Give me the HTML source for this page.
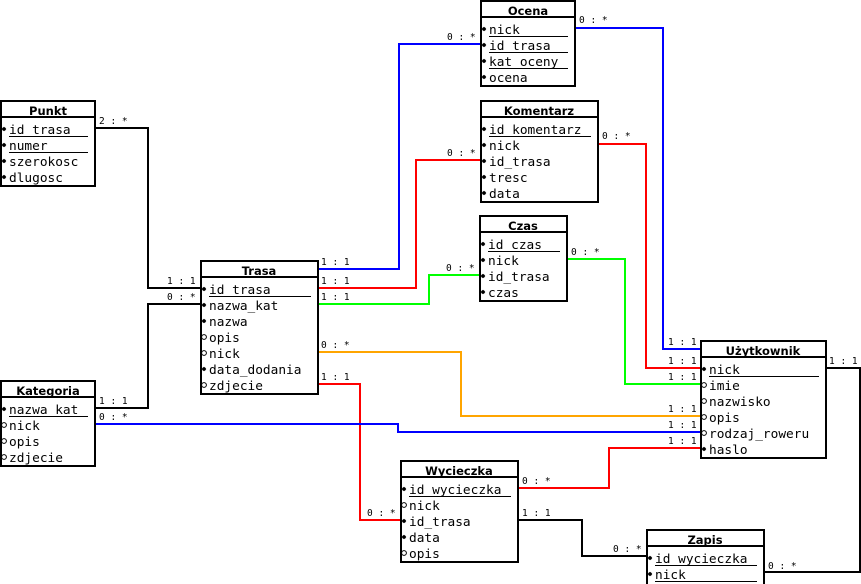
<!DOCTYPE html>
<html><head><meta charset="utf-8"><style>
html,body{margin:0;padding:0;background:#fff;}
svg{display:block}
.t{font-family:"DejaVu Sans","Liberation Sans",sans-serif;font-weight:bold;font-size:11.5px;text-anchor:middle}
.a{font-family:"DejaVu Sans Mono","Liberation Mono",monospace;font-size:12.8px}
.l{font-family:"DejaVu Sans Mono","Liberation Mono",monospace;font-size:9.5px}
</style></head><body>
<svg width="861" height="584" viewBox="0 0 861 584" xmlns="http://www.w3.org/2000/svg">
<defs>
<g id="f"><path d="M0,-2.3 L2.3,0 L0,2.3 L-2.3,0Z" fill="#000"/><circle r="1.8" fill="#000"/></g>
<g id="h"><circle r="2.4" fill="none" stroke="#000" stroke-width="1"/></g>
</defs>
<g fill="none" stroke-width="2">
<polyline stroke="#0000ff" points="575,28 663,28 663,349 700,349"/>
<polyline stroke="#ff0000" points="598,144 646,144 646,368 700,368"/>
<polyline stroke="#00ff00" points="567,259 625,259 625,384 700,384"/>
<polyline stroke="#000" points="826,368 860,368 860,572 764,572"/>
<polyline stroke="#0000ff" points="318,269 399,269 399,44 480,44"/>
<polyline stroke="#ff0000" points="318,288 416,288 416,160 480,160"/>
<polyline stroke="#00ff00" points="318,304 429,304 429,275 479,275"/>
<polyline stroke="#ffa500" points="318,352 461,352 461,416 700,416"/>
<polyline stroke="#ff0000" points="318,384 360,384 360,520 400,520"/>
<polyline stroke="#0000ff" points="95,424 398,424 398,432 700,432"/>
<polyline stroke="#000" points="95,408 148,408 148,304 200,304"/>
<polyline stroke="#000" points="95,128 148,128 148,288 200,288"/>
<polyline stroke="#ff0000" points="518,488 609,488 609,448 700,448"/>
<polyline stroke="#000" points="518,520 582,520 582,556 646,556"/>
</g>
<g class="l">
<text x="579" y="23">0 : *</text>
<text x="602" y="139">0 : *</text>
<text x="571" y="255">0 : *</text>
<text x="829" y="364">1 : 1</text>
<text x="768" y="569">0 : *</text>
<text x="321" y="265">1 : 1</text>
<text x="447" y="40">0 : *</text>
<text x="321" y="284">1 : 1</text>
<text x="447" y="156">0 : *</text>
<text x="321" y="300">1 : 1</text>
<text x="446" y="271">0 : *</text>
<text x="321" y="348">0 : *</text>
<text x="668" y="412">1 : 1</text>
<text x="321" y="380">1 : 1</text>
<text x="367" y="516">0 : *</text>
<text x="99" y="420">0 : *</text>
<text x="668" y="428">1 : 1</text>
<text x="99" y="404">1 : 1</text>
<text x="167" y="300">0 : *</text>
<text x="99" y="124">2 : *</text>
<text x="167" y="284">1 : 1</text>
<text x="522" y="484">0 : *</text>
<text x="668" y="444">1 : 1</text>
<text x="522" y="516">1 : 1</text>
<text x="613" y="552">0 : *</text>
<text x="668" y="345">1 : 1</text>
<text x="668" y="364">1 : 1</text>
<text x="668" y="380">1 : 1</text>
</g>

<g>
<rect x="1" y="101" width="94" height="85" fill="#fff" stroke="#000" stroke-width="2"/>
<line x1="1" y1="117" x2="95" y2="117" stroke="#000" stroke-width="2"/>
<text class="t" x="48" y="115">Punkt</text>
<g class="a"><text x="9" y="134">id trasa</text><text x="9" y="150">numer</text><text x="9" y="166">szerokosc</text><text x="9" y="182">dlugosc</text></g>
<g stroke="#000" stroke-width="1"><line x1="9" y1="136.5" x2="88" y2="136.5"/><line x1="9" y1="152.5" x2="88" y2="152.5"/></g>
<use href="#f" x="4" y="129"/><use href="#f" x="4" y="145"/><use href="#f" x="4" y="161"/><use href="#f" x="4" y="177"/>
</g>

<g>
<rect x="481" y="1" width="94" height="85" fill="#fff" stroke="#000" stroke-width="2"/>
<line x1="481" y1="17" x2="575" y2="17" stroke="#000" stroke-width="2"/>
<text class="t" x="528" y="15">Ocena</text>
<g class="a"><text x="489" y="34">nick</text><text x="489" y="50">id trasa</text><text x="489" y="66">kat oceny</text><text x="489" y="82">ocena</text></g>
<g stroke="#000" stroke-width="1"><line x1="489" y1="36.5" x2="568" y2="36.5"/><line x1="489" y1="52.5" x2="568" y2="52.5"/><line x1="489" y1="68.5" x2="568" y2="68.5"/></g>
<use href="#f" x="484" y="29"/><use href="#f" x="484" y="45"/><use href="#f" x="484" y="61"/><use href="#f" x="484" y="77"/>
</g>

<g>
<rect x="481" y="101" width="117" height="101" fill="#fff" stroke="#000" stroke-width="2"/>
<line x1="481" y1="117" x2="598" y2="117" stroke="#000" stroke-width="2"/>
<text class="t" x="539" y="115">Komentarz</text>
<g class="a"><text x="489" y="134">id komentarz</text><text x="489" y="150">nick</text><text x="489" y="166">id_trasa</text><text x="489" y="182">tresc</text><text x="489" y="198">data</text></g>
<line x1="489" y1="136.5" x2="591" y2="136.5" stroke="#000" stroke-width="1"/>
<use href="#f" x="484" y="129"/><use href="#f" x="484" y="145"/><use href="#f" x="484" y="161"/><use href="#f" x="484" y="177"/><use href="#f" x="484" y="193"/>
</g>

<g>
<rect x="480" y="216" width="87" height="85" fill="#fff" stroke="#000" stroke-width="2"/>
<line x1="480" y1="232" x2="567" y2="232" stroke="#000" stroke-width="2"/>
<text class="t" x="523" y="230">Czas</text>
<g class="a"><text x="488" y="249">id czas</text><text x="488" y="265">nick</text><text x="488" y="281">id_trasa</text><text x="488" y="297">czas</text></g>
<line x1="488" y1="251.5" x2="560" y2="251.5" stroke="#000" stroke-width="1"/>
<use href="#f" x="483" y="244"/><use href="#f" x="483" y="260"/><use href="#f" x="483" y="276"/><use href="#f" x="483" y="292"/>
</g>

<g>
<rect x="201" y="261" width="117" height="133" fill="#fff" stroke="#000" stroke-width="2"/>
<line x1="201" y1="277" x2="318" y2="277" stroke="#000" stroke-width="2"/>
<text class="t" x="259" y="275">Trasa</text>
<g class="a"><text x="209" y="294">id trasa</text><text x="209" y="310">nazwa_kat</text><text x="209" y="326">nazwa</text><text x="209" y="342">opis</text><text x="209" y="358">nick</text><text x="209" y="374">data_dodania</text><text x="209" y="390">zdjecie</text></g>
<line x1="209" y1="296.5" x2="311" y2="296.5" stroke="#000" stroke-width="1"/>
<use href="#f" x="204" y="289"/><use href="#f" x="204" y="305"/><use href="#f" x="204" y="321"/><use href="#h" x="204" y="337"/><use href="#h" x="204" y="353"/><use href="#f" x="204" y="369"/><use href="#h" x="204" y="385"/>
</g>

<g>
<rect x="1" y="381" width="94" height="85" fill="#fff" stroke="#000" stroke-width="2"/>
<line x1="1" y1="397" x2="95" y2="397" stroke="#000" stroke-width="2"/>
<text class="t" x="48" y="395">Kategoria</text>
<g class="a"><text x="9" y="414">nazwa kat</text><text x="9" y="430">nick</text><text x="9" y="446">opis</text><text x="9" y="462">zdjecie</text></g>
<line x1="9" y1="416.5" x2="88" y2="416.5" stroke="#000" stroke-width="1"/>
<use href="#f" x="4" y="409"/><use href="#h" x="4" y="425"/><use href="#h" x="4" y="441"/><use href="#h" x="4" y="457"/>
</g>

<g>
<rect x="701" y="341" width="125" height="117" fill="#fff" stroke="#000" stroke-width="2"/>
<line x1="701" y1="357" x2="826" y2="357" stroke="#000" stroke-width="2"/>
<text class="t" x="763" y="355">Użytkownik</text>
<g class="a"><text x="709" y="374">nick</text><text x="709" y="390">imie</text><text x="709" y="406">nazwisko</text><text x="709" y="422">opis</text><text x="709" y="438">rodzaj_roweru</text><text x="709" y="454">haslo</text></g>
<line x1="709" y1="376.5" x2="819" y2="376.5" stroke="#000" stroke-width="1"/>
<use href="#f" x="704" y="369"/><use href="#h" x="704" y="385"/><use href="#h" x="704" y="401"/><use href="#h" x="704" y="417"/><use href="#h" x="704" y="433"/><use href="#f" x="704" y="449"/>
</g>

<g>
<rect x="401" y="461" width="117" height="101" fill="#fff" stroke="#000" stroke-width="2"/>
<line x1="401" y1="477" x2="518" y2="477" stroke="#000" stroke-width="2"/>
<text class="t" x="459" y="475">Wycieczka</text>
<g class="a"><text x="409" y="494">id wycieczka</text><text x="409" y="510">nick</text><text x="409" y="526">id_trasa</text><text x="409" y="542">data</text><text x="409" y="558">opis</text></g>
<line x1="409" y1="496.5" x2="511" y2="496.5" stroke="#000" stroke-width="1"/>
<use href="#f" x="404" y="489"/><use href="#h" x="404" y="505"/><use href="#f" x="404" y="521"/><use href="#f" x="404" y="537"/><use href="#h" x="404" y="553"/>
</g>

<g>
<rect x="647" y="530" width="117" height="60" fill="#fff" stroke="#000" stroke-width="2"/>
<line x1="647" y1="546" x2="764" y2="546" stroke="#000" stroke-width="2"/>
<text class="t" x="705" y="544">Zapis</text>
<g class="a"><text x="655" y="563">id wycieczka</text><text x="655" y="579">nick</text></g>
<g stroke="#000" stroke-width="1"><line x1="655" y1="565.5" x2="757" y2="565.5"/><line x1="655" y1="581.5" x2="757" y2="581.5"/></g>
<use href="#f" x="650" y="558"/><use href="#f" x="650" y="574"/>
</g>
</svg>
</body></html>
